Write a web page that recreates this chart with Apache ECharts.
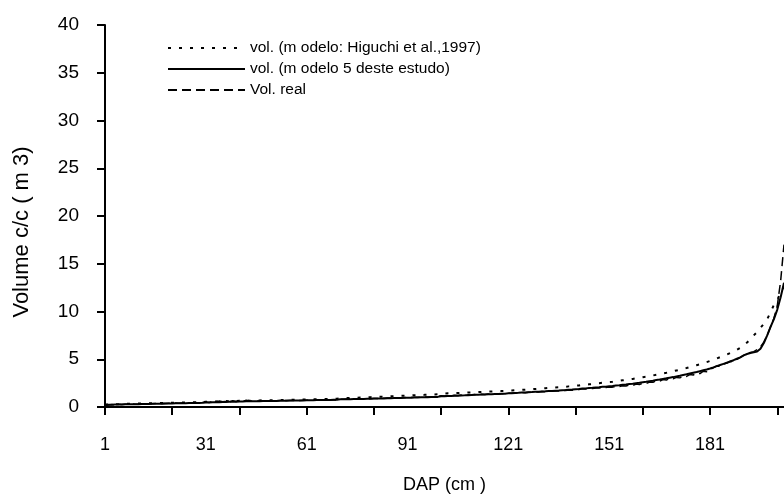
<!DOCTYPE html>
<html>
<head>
<meta charset="utf-8">
<script src="https://cdn.jsdelivr.net/npm/echarts@6/dist/echarts.min.js"></script>
<style>
  html, body { margin: 0; padding: 0; background: #fff; }
  #chart { width: 784px; height: 497px; }
</style>
</head>
<body>
<div id="chart"></div>
<script>
// DAP classes along the x axis (1 .. 203 cm)
const firstDap = 1;
const dapCount = 203;
const dapCategories = Array.from({ length: dapCount }, (_, i) => String(firstDap + i));

// Volume c/c (m3), model of Higuchi et al. (1997)
const volHiguchi = [
  0.25,0.27,0.28,0.30,0.30,0.32,0.33,0.34,0.35,0.35,
  0.36,0.37,0.38,0.38,0.39,0.40,0.41,0.42,0.42,0.43,
  0.44,0.45,0.46,0.46,0.47,0.48,0.49,0.50,0.51,0.52,
  0.55,0.54,0.60,0.57,0.63,0.60,0.64,0.61,0.67,0.63,
  0.66,0.64,0.70,0.66,0.68,0.68,0.69,0.70,0.71,0.71,
  0.72,0.73,0.73,0.74,0.75,0.75,0.76,0.77,0.77,0.78,
  0.79,0.80,0.80,0.81,0.82,0.83,0.83,0.84,0.85,0.86,
  0.90,0.91,0.93,0.94,0.96,0.97,0.99,1.00,1.02,1.03,
  1.05,1.06,1.08,1.09,1.11,1.12,1.14,1.15,1.17,1.18,
  1.20,1.21,1.23,1.24,1.26,1.27,1.29,1.30,1.32,1.34,
  1.40,1.41,1.43,1.44,1.46,1.47,1.49,1.50,1.52,1.53,
  1.55,1.56,1.58,1.59,1.61,1.62,1.64,1.65,1.67,1.68,
  1.72,1.73,1.76,1.77,1.80,1.81,1.84,1.86,1.89,1.91,
  1.94,1.96,1.99,2.01,2.04,2.06,2.10,2.12,2.16,2.18,
  2.24,2.26,2.31,2.33,2.38,2.40,2.46,2.48,2.54,2.56,
  2.62,2.65,2.71,2.74,2.80,2.84,2.90,2.94,3.00,3.05,
  3.12,3.17,3.25,3.30,3.38,3.44,3.52,3.58,3.67,3.74,
  3.83,3.90,4.00,4.08,4.18,4.27,4.38,4.48,4.60,4.70,
  4.82,4.95,5.08,5.22,5.36,5.50,5.66,5.82,6.00,6.20,
  6.45,6.75,7.10,7.50,7.85,8.30,8.70,9.20,9.90,10.70,
  11.20,12.00,12.60
];

// Volume c/c (m3), model 5 of this study
const volModelo5 = [
  0.22,0.23,0.24,0.25,0.26,0.26,0.28,0.28,0.29,0.30,
  0.30,0.31,0.32,0.32,0.33,0.34,0.34,0.35,0.36,0.37,
  0.37,0.38,0.39,0.40,0.40,0.41,0.42,0.43,0.43,0.44,
  0.46,0.47,0.49,0.50,0.51,0.52,0.53,0.54,0.55,0.56,
  0.57,0.58,0.59,0.59,0.60,0.61,0.61,0.62,0.63,0.63,
  0.64,0.64,0.65,0.66,0.66,0.67,0.67,0.68,0.69,0.69,
  0.70,0.70,0.71,0.72,0.72,0.73,0.73,0.74,0.75,0.75,
  0.80,0.80,0.81,0.82,0.83,0.84,0.84,0.85,0.86,0.87,
  0.88,0.89,0.90,0.90,0.91,0.92,0.93,0.94,0.95,0.96,
  0.97,0.98,0.99,1.00,1.01,1.02,1.03,1.04,1.05,1.06,
  1.12,1.13,1.15,1.16,1.18,1.19,1.21,1.22,1.24,1.25,
  1.27,1.28,1.30,1.31,1.33,1.34,1.36,1.37,1.39,1.40,
  1.43,1.44,1.47,1.48,1.51,1.52,1.55,1.56,1.59,1.60,
  1.63,1.64,1.67,1.68,1.71,1.73,1.76,1.78,1.81,1.83,
  1.87,1.89,1.93,1.95,1.99,2.01,2.05,2.07,2.11,2.13,
  2.17,2.19,2.24,2.27,2.32,2.35,2.41,2.44,2.50,2.54,
  2.60,2.64,2.71,2.75,2.82,2.87,2.94,3.00,3.07,3.13,
  3.20,3.27,3.35,3.42,3.50,3.58,3.66,3.75,3.84,3.93,
  4.03,4.15,4.28,4.40,4.52,4.64,4.76,4.90,5.05,5.20,
  5.40,5.55,5.65,5.72,5.80,6.10,6.70,7.50,8.40,9.20,
  10.20,11.50,13.00
];

// Volume c/c (m3), measured
const volReal = [
  0.20,0.22,0.25,0.24,0.28,0.26,0.30,0.27,0.32,0.30,
  0.31,0.33,0.30,0.35,0.34,0.36,0.33,0.38,0.36,0.40,
  0.38,0.41,0.39,0.43,0.40,0.44,0.42,0.46,0.45,0.48,
  0.52,0.47,0.58,0.50,0.62,0.55,0.60,0.53,0.66,0.57,
  0.63,0.58,0.70,0.60,0.65,0.62,0.64,0.63,0.65,0.64,
  0.66,0.65,0.67,0.66,0.68,0.67,0.68,0.69,0.68,0.70,
  0.70,0.71,0.70,0.72,0.71,0.73,0.72,0.74,0.73,0.75,
  0.82,0.80,0.84,0.83,0.85,0.84,0.87,0.86,0.88,0.87,
  0.90,0.89,0.92,0.91,0.94,0.93,0.96,0.95,0.98,0.97,
  1.00,0.99,1.02,1.01,1.04,1.03,1.06,1.05,1.08,1.10,
  1.18,1.16,1.20,1.19,1.22,1.21,1.25,1.23,1.27,1.26,
  1.30,1.28,1.33,1.31,1.35,1.34,1.38,1.36,1.40,1.39,
  1.45,1.43,1.48,1.46,1.52,1.50,1.55,1.53,1.58,1.56,
  1.62,1.60,1.66,1.64,1.70,1.68,1.74,1.72,1.78,1.76,
  1.85,1.83,1.90,1.88,1.95,1.93,2.00,1.98,2.05,2.03,
  2.10,2.08,2.16,2.14,2.22,2.20,2.30,2.26,2.40,2.35,
  2.50,2.45,2.62,2.58,2.75,2.70,2.88,2.82,3.00,2.95,
  3.10,3.05,3.25,3.20,3.40,3.35,3.55,3.50,3.75,3.70,
  3.95,4.10,4.30,4.25,4.50,4.60,4.80,4.75,5.00,5.20,
  5.40,5.60,5.70,5.80,6.00,6.30,6.80,7.50,8.40,9.30,
  10.60,13.20,17.00
];

const legendNames = [
  'vol. (m odelo: Higuchi et al.,1997)',
  'vol. (m odelo 5 deste estudo)',
  'Vol. real'
];

const FONT = '"Liberation Sans", Arial, sans-serif';
const INK = '#000';

const chart = echarts.init(document.getElementById('chart'), null, { renderer: 'canvas' });

chart.setOption({
  animation: false,
  backgroundColor: '#fff',
  textStyle: { fontFamily: FONT, color: INK },
  grid: {
    left: 105, right: 0, top: 25, bottom: 90,
    containLabel: false,
    outerBoundsMode: 'none'
  },
  legend: {
    orient: 'vertical',
    left: 167,
    top: 40,
    padding: 0,
    itemWidth: 77,
    itemHeight: 14,
    itemGap: 5,
    itemStyle: { opacity: 0, borderWidth: 0 },
    textStyle: { fontFamily: FONT, fontSize: 15.5, color: INK },
    data: legendNames
  },
  xAxis: {
    type: 'category',
    data: dapCategories,
    boundaryGap: false,
    name: 'DAP (cm )',
    nameLocation: 'middle',
    nameGap: 69,
    nameTextStyle: { fontFamily: FONT, fontSize: 18, color: INK },
    axisLine: { lineStyle: { color: INK, width: 2 } },
    axisTick: { show: true, interval: 19, length: 8, inside: false, lineStyle: { color: INK, width: 2 } },
    axisLabel: { interval: 29, margin: 29, fontSize: 18, color: INK, fontFamily: FONT },
    splitLine: { show: false }
  },
  yAxis: {
    type: 'value',
    min: 0,
    max: 40,
    interval: 5,
    name: 'Volume c/c ( m 3)',
    nameLocation: 'middle',
    nameGap: 72,
    nameRotate: 90,
    nameTextStyle: { fontFamily: FONT, fontSize: 22, color: INK, padding: [0, 32, 0, 0] },
    axisLine: { show: true, lineStyle: { color: INK, width: 2 } },
    axisTick: { show: true, length: 8, inside: false, lineStyle: { color: INK, width: 2 } },
    axisLabel: { margin: 26, fontSize: 19, color: INK, fontFamily: FONT },
    splitLine: { show: false }
  },
  series: [
    {
      name: legendNames[0],
      type: 'line',
      data: volHiguchi,
      symbol: 'none',
      lineStyle: { color: INK, width: 2, type: [3, 8] },
      itemStyle: { color: INK }
    },
    {
      name: legendNames[1],
      type: 'line',
      data: volModelo5,
      symbol: 'none',
      lineStyle: { color: INK, width: 2, type: 'solid' },
      itemStyle: { color: INK }
    },
    {
      name: legendNames[2],
      type: 'line',
      data: volReal,
      symbol: 'none',
      lineStyle: { color: INK, width: 1.5, type: [9, 5] },
      itemStyle: { color: INK }
    }
  ]
});
</script>
</body>
</html>
